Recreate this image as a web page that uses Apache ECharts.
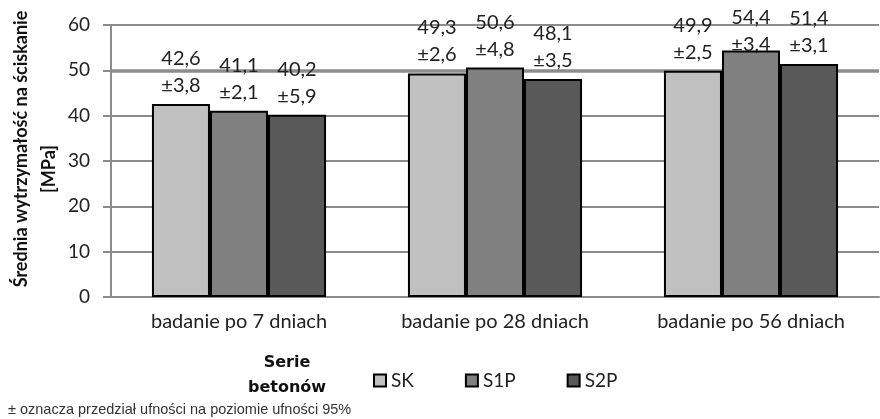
<!DOCTYPE html>
<html><head><meta charset="utf-8">
<script src="https://cdn.jsdelivr.net/npm/echarts@6/dist/echarts.min.js"></script>
<style>html,body{margin:0;padding:0;background:#fff}#c{width:880px;height:419px}</style>
</head><body><div id="c"></div>
<script>
const categories = ['badanie po 7 dniach', 'badanie po 28 dniach', 'badanie po 56 dniach'];
const seriesNames = ['SK', 'S1P', 'S2P'];
const valuesSK = [42.6, 49.3, 49.9];
const valuesS1P = [41.1, 50.6, 54.4];
const valuesS2P = [40.2, 48.1, 51.4];
const ciSK = [3.8, 2.6, 2.5];
const ciS1P = [2.1, 4.8, 3.4];
const ciS2P = [5.9, 3.5, 3.1];
const yTicks = [0, 10, 20, 30, 40, 50, 60];
const highlightLine = 50;
const yTitleLines = ['Średnia wytrzymałość na ściskanie', '[MPa]'];
const legendTitle = 'Serie\nbetonów';
const footnote = '± oznacza przedział ufności na poziomie ufności 95%';

const colors = ['#c0c0c0', '#808080', '#595959'];
const allValues = [valuesSK, valuesS1P, valuesS2P];
const allCI = [ciSK, ciS1P, ciS2P];
const fmt = v => v.toFixed(1).replace('.', ',');

const chart = echarts.init(document.getElementById('c'));
const series = seriesNames.map((name, i) => ({
  name: name,
  type: 'bar',
  yAxisIndex: 0,
  barGap: '0%',
  barCategoryGap: '32%',
  data: allValues[i],
  itemStyle: { color: colors[i], borderColor: '#000', borderWidth: 2 },
  label: {
    show: true,
    position: 'top',
    distance: 5,
    formatter: p => fmt(p.value) + '\n±' + fmt(allCI[i][p.dataIndex]),
    fontFamily: 'Lato',
    fontSize: 20,
    lineHeight: 27,
    color: '#222'
  },
  labelLayout: p => (p.labelRect.y < 4 ? { dy: 4 - p.labelRect.y } : {})
}));

const titleFont = 'bold 18px Lato';
chart.setOption({
  animation: false,
  backgroundColor: '#fff',
  grid: { left: 111, right: 1, top: 25, bottom: 122, containLabel: false },
  xAxis: {
    type: 'category',
    data: categories,
    axisLine: { lineStyle: { color: '#8c8c8c', width: 2 } },
    axisTick: { show: false },
    axisLabel: { margin: 15, fontFamily: 'Lato', fontSize: 20, color: '#222' }
  },
  yAxis: [{
    type: 'value',
    min: yTicks[0],
    max: yTicks[yTicks.length - 1],
    interval: yTicks[1] - yTicks[0],
    axisLine: { show: true, lineStyle: { color: '#8c8c8c', width: 2 } },
    axisTick: { show: true, length: 8, lineStyle: { color: '#8c8c8c', width: 2 } },
    axisLabel: { margin: 21, fontFamily: 'Lato', fontSize: 19, color: '#222' },
    splitLine: { show: true, lineStyle: { color: '#8c8c8c', width: 2 } }
  }, {
    type: 'value',
    position: 'left',
    min: yTicks[0],
    max: yTicks[yTicks.length - 1],
    interval: highlightLine,
    axisLine: { show: false },
    axisTick: { show: false },
    axisLabel: { show: false },
    splitLine: { show: true, showMinLine: false, showMaxLine: false, lineStyle: { color: '#8c8c8c', width: 3.5 } }
  }],
  legend: {
    data: seriesNames,
    left: 368,
    top: 366,
    icon: 'rect',
    itemWidth: 12,
    itemHeight: 12,
    itemGap: 51,
    textStyle: { fontFamily: 'Lato', fontSize: 19, color: '#222' }
  },
  graphic: [{
    type: 'text',
    x: 21,
    y: 149,
    rotation: Math.PI / 2,
    style: { text: yTitleLines[0], textAlign: 'center', textVerticalAlign: 'middle', font: titleFont, fill: '#111' }
  }, {
    type: 'text',
    x: 49,
    y: 169,
    rotation: Math.PI / 2,
    style: { text: yTitleLines[1], textAlign: 'center', textVerticalAlign: 'middle', font: titleFont, fill: '#111' }
  }, {
    type: 'text',
    x: 287,
    y: 350,
    style: { text: legendTitle, textAlign: 'center', textVerticalAlign: 'top', font: 'bold 16px "DejaVu Sans"', lineHeight: 25, fill: '#111' }
  }, {
    type: 'text',
    x: 8,
    y: 402,
    style: { text: footnote, font: '14.5px "Liberation Sans"', fill: '#333' }
  }],
  series: series
});
</script>
</body></html>
